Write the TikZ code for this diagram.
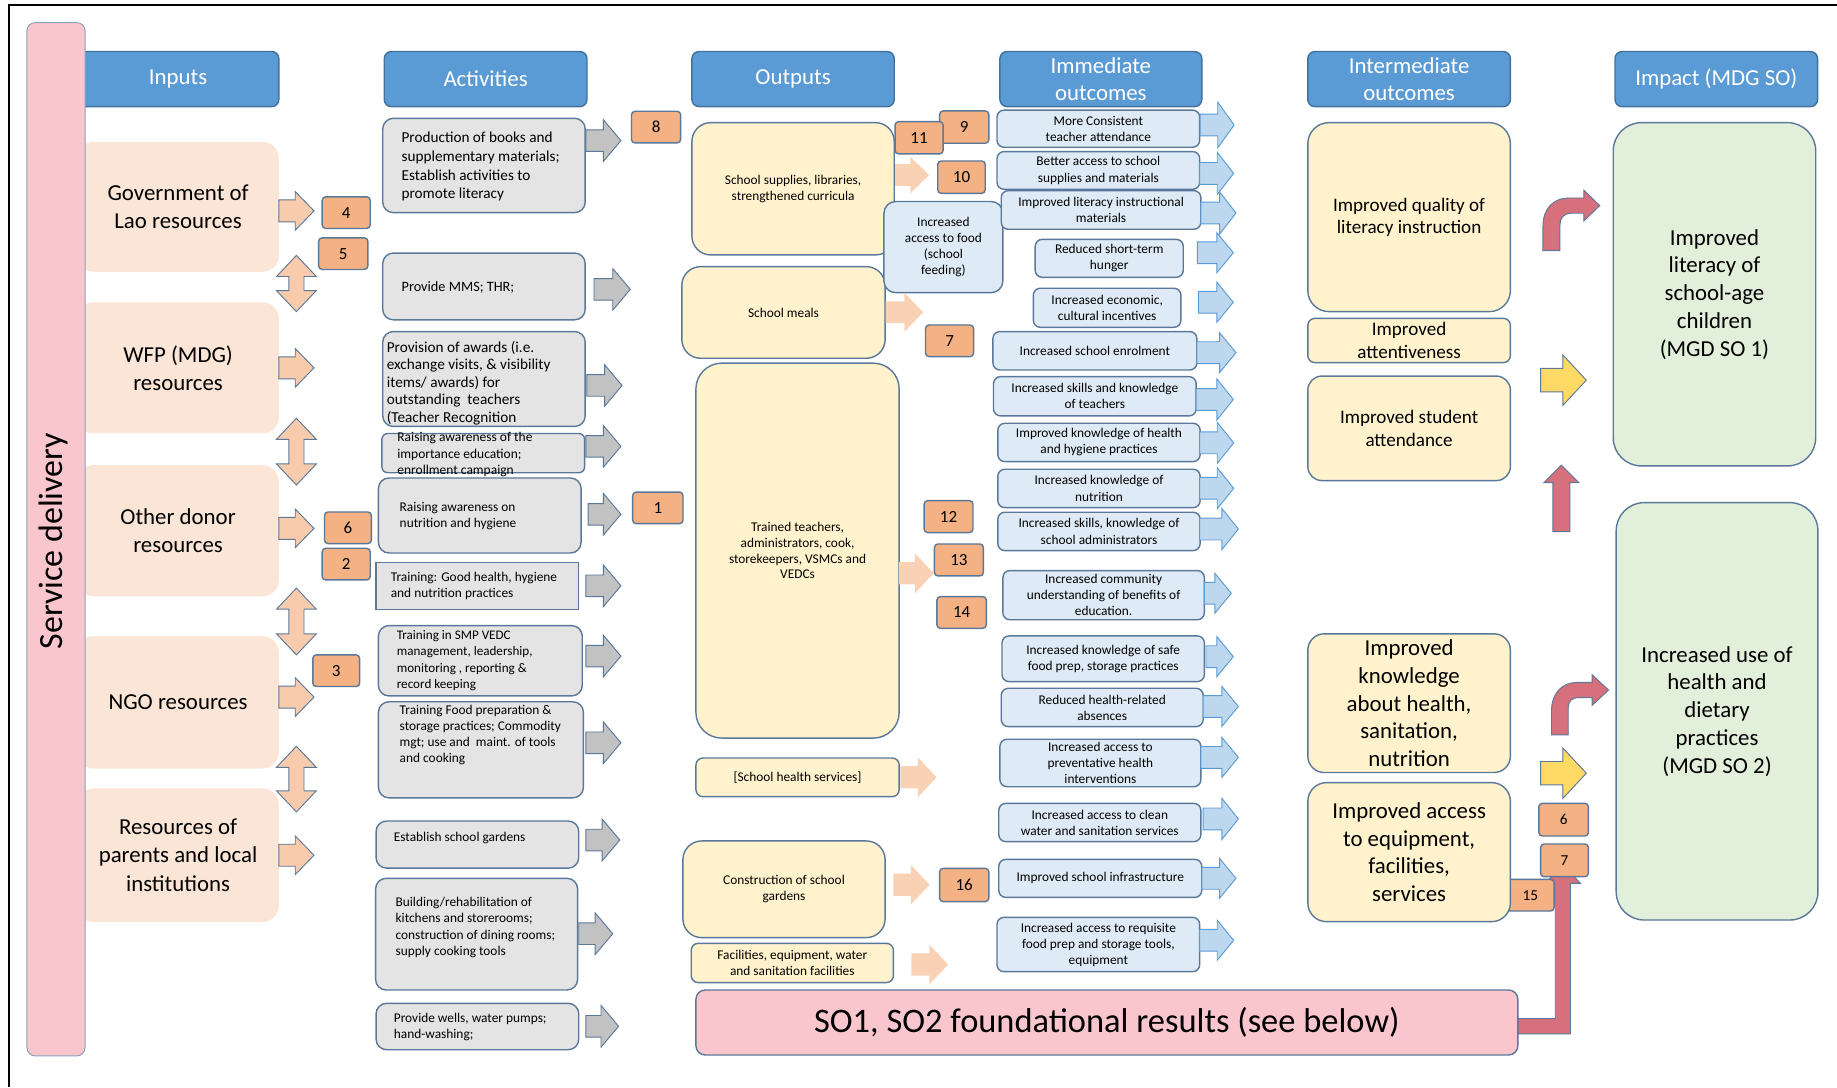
\documentclass[tikz,border=0pt]{standalone}
\usepackage{fontspec}
\setmainfont{Carlito}

\definecolor{hdr}{HTML}{5B9BD5}
\definecolor{hdrline}{HTML}{41719C}
\definecolor{pinkbar}{HTML}{F9C6CD}
\definecolor{peach}{HTML}{FBE5D6}
\definecolor{peacharr}{HTML}{F8CBAD}
\definecolor{softpeach}{HTML}{F9D2B6}
\definecolor{numfill}{HTML}{F4B183}
\definecolor{actfill}{HTML}{E4E4E4}
\definecolor{grayarr}{HTML}{C2C2C2}
\definecolor{outfill}{HTML}{FFF2CC}
\definecolor{imfill}{HTML}{DEEBF7}
\definecolor{bluearr}{HTML}{BDD7EE}
\definecolor{bluearrline}{HTML}{5B9BD5}
\definecolor{grnfill}{HTML}{E2EFDA}
\definecolor{redarr}{HTML}{D5707C}
\definecolor{yelarr}{HTML}{FFD966}
\definecolor{edge}{HTML}{5A7899}

\newcommand\fsz[2]{\fontsize{#1}{#2}\selectfont}
% box node from its corner coordinates: name, style, x1, y1, x2, y2, text
\newcommand\bx[7]{\node[#2, minimum width={#5-#3}, minimum height={#6-#4}] (#1) at ({(#3+#5)/2},{(#4+#6)/2}) {#7};}
% numbered tag: [style] name, x1, y1, x2, y2, number
\newcommand\num[7][]{\node[numbox,#1, minimum width={#5-#3}, minimum height={#6-#4}] (#2) at ({(#3+#5)/2},{(#4+#6)/2}) {#7};}
% right-pointing block arrow: style, tail x, tip x, centre y, shaft half, head half, head length
\newcommand\rarr[7]{\path[#1] (#2,{#4-#5}) -- ({#3-#7},{#4-#5}) -- ({#3-#7},{#4-#6}) -- (#3,#4) -- ({#3-#7},{#4+#6}) -- ({#3-#7},{#4+#5}) -- (#2,{#4+#5}) -- cycle;}
% vertical double-headed block arrow: x, top y, bottom y
\newcommand\vdarr[3]{\path[inarrow] (#1,#2) -- ({#1+17},{#2+18}) -- ({#1+6.5},{#2+18}) -- ({#1+6.5},{#3-18}) -- ({#1+17},{#3-18}) -- (#1,#3) -- ({#1-17},{#3-18}) -- ({#1-6.5},{#3-18}) -- ({#1-6.5},{#2+18}) -- ({#1-17},{#2+18}) -- cycle;}

\begin{document}
\begin{tikzpicture}[x=1pt,y=-1pt,
  box/.style={rectangle, inner sep=0pt, outer sep=0pt, line width=1.2pt, draw=edge, align=center},
  header/.style={box, fill=hdr, draw=hdrline, rounded corners=6pt, text=white, font=\fsz{19.5}{23}},
  inbox/.style={box, draw=none, fill=peach, rounded corners=14pt, font=\fsz{19.5}{24}},
  act/.style={box, fill=actfill, rounded corners=9pt},
  acttext/.style={inner sep=0pt, align=left, anchor=west, font=\fsz{11.4}{13.7}},
  outb/.style={box, fill=outfill, rounded corners=16pt, font=\fsz{11.4}{13.5}},
  imb/.style={box, fill=imfill, rounded corners=6pt, font=\fsz{11.4}{13.7}},
  midb/.style={box, fill=outfill, rounded corners=18pt},
  impb/.style={box, fill=grnfill, rounded corners=24pt, font=\fsz{19.5}{23.7}},
  numbox/.style={box, fill=numfill, rounded corners=3pt, font=\fsz{14.5}{16}},
  inarrow/.style={fill=peacharr, draw=edge, line width=0.8pt},
  grayarrow/.style={fill=grayarr, draw=edge, line width=0.8pt},
  outarrow/.style={fill=softpeach},
  bluearrow/.style={fill=bluearr, draw=bluearrline, line width=0.8pt},
  redarrow/.style={fill=redarr, draw=edge, line width=0.8pt},
  yelarrow/.style={fill=yelarr, draw=edge, line width=0.8pt}]
\useasboundingbox (0,0) rectangle (1568,928);

% outer frame
\draw[line width=1.8pt] (7.4,928) -- (7.4,4.3) -- (1568,4.3);

% column headers
\bx{hin}{header}{66}{44}{238}{91}{Inputs}
\bx{hact}{header}{328}{44}{501}{91}{Activities}
\bx{hout}{header}{590.6}{44}{763.3}{91}{Outputs}
\bx{himm}{header}{853.5}{44}{1025.8}{91}{Immediate\\outcomes}
\bx{hint}{header}{1116.3}{44}{1289.2}{91}{Intermediate\\outcomes}
\bx{himp}{header}{1378.5}{44}{1551.4}{91}{Impact (MDG SO)}

% inputs
\bx{in1}{inbox}{66}{121}{238}{232}{Government of\\Lao resources}
\bx{in2}{inbox}{66}{258}{238}{370}{WFP (MDG)\\resources}
\bx{in3}{inbox}{66}{397}{238}{509}{Other donor\\resources}
\bx{in4}{inbox}{66}{543}{238}{656}{NGO resources}
\bx{in5}{inbox}{66}{673}{238}{787}{Resources of\\parents and local\\institutions}

% service delivery bar
\node[box, fill=pinkbar, draw=edge!70, line width=0.8pt, rounded corners=7pt, minimum width=49.6, minimum height=882] (sd) at (47.8,460.3) {};
\node[rotate=90, inner sep=0pt, font=\fsz{29}{34}] (sdt) at (46,462) {Service delivery};

\rarr{inarrow}{238}{268}{180}{9.4}{16.5}{16}
\rarr{inarrow}{238}{268}{314}{9.4}{16.5}{16}
\rarr{inarrow}{238}{268}{451}{9.4}{16.5}{16}
\rarr{inarrow}{238}{268}{595}{9.4}{16.5}{16}
\rarr{inarrow}{238}{268}{730}{9.4}{16.5}{16}
\vdarr{253}{218}{266}
\vdarr{253}{357}{414}
\vdarr{253}{502}{559}
\vdarr{253}{637}{693}

\num{n4}{275}{168}{316}{195}{4}
\num{n5}{272}{203}{314}{230}{5}
\num{n6a}{277}{437}{317}{464}{6}
\num{n2}{275}{468}{316}{495}{2}
\num{n3}{267}{559}{307}{586}{3}

% activities
\bx{a1}{act}{326.7}{101}{499.5}{181.5}{}
\bx{a2}{act}{326.7}{216}{499.5}{273}{}
\bx{a3}{act}{326.7}{283}{499.5}{364}{}
\bx{a4}{act, rounded corners=5pt}{326}{370}{499}{403.5}{}
\bx{a5}{act}{323}{408}{496}{472}{}
\bx{a6}{act, sharp corners}{321}{480}{494}{520}{}
\bx{a7}{act}{323}{534}{497}{594}{}
\bx{a8}{act}{323}{599}{498}{681}{}
\bx{a9}{act}{321}{700.8}{494}{741}{}
\bx{a10}{act}{320.6}{749.7}{493}{845}{}
\bx{a11}{act}{321}{856.4}{494}{896}{}

\node[acttext, font=\fsz{13}{16}] (a1t) at (342.6,142.2) {Production of books and\\supplementary materials;\\Establish activities to\\promote literacy};
\node[acttext, font=\fsz{12.2}{14}] (a2t) at (342.6,245) {Provide MMS; THR;};
\node[acttext, font=\fsz{13}{15}] (a3t) at (330,327) {Provision of awards (i.e.\\exchange visits, \& visibility\\items/ awards) for\\outstanding~ teachers\\(Teacher Recognition};
\node[acttext, font=\fsz{11.5}{14}] (a4t) at (339,388) {Raising awareness of the\\importance education;\\enrollment campaign};
\node[acttext] (a5t) at (341,440.5) {Raising awareness on\\nutrition and hygiene};
\node[acttext] (a6t) at (333.4,500.3) {Training: Good health, hygiene\\and nutrition practices};
\node[acttext, font=\fsz{11.2}{14}] (a7t) at (338.5,564) {Training in SMP VEDC\\management, leadership,\\monitoring , reporting \&\\record keeping};
\node[acttext] (a8t) at (341,627.7) {Training Food preparation \&\\storage practices; Commodity\\mgt; use and~ maint. of tools\\and cooking};
\node[acttext] (a9t) at (336,715.6) {Establish school gardens};
\node[acttext, font=\fsz{11.4}{13.8}] (a10t) at (337.5,791.7) {Building/rehabilitation of\\kitchens and storerooms;\\construction of dining rooms;\\supply cooking tools};
\node[acttext] (a11t) at (336,877) {Provide wells, water pumps;\\hand-washing;};

\rarr{grayarrow}{500}{530}{120}{9.2}{17.8}{15}
\rarr{grayarrow}{507}{538}{247}{9.2}{17.8}{15}
\rarr{grayarrow}{501}{531}{329}{9.2}{17.8}{15}
\rarr{grayarrow}{500}{530}{381}{9.2}{17.8}{15}
\rarr{grayarrow}{502}{530}{439}{9.2}{17.8}{15}
\rarr{grayarrow}{500}{530}{500}{9.2}{17.8}{15}
\rarr{grayarrow}{500}{530}{560}{9.2}{17.8}{15}
\rarr{grayarrow}{500}{530}{634}{9.2}{17.8}{15}
\rarr{grayarrow}{500}{529}{717}{9.2}{17.8}{15}
\rarr{grayarrow}{494}{523}{797}{9.2}{17.8}{15}
\rarr{grayarrow}{500}{528}{876}{9.2}{17.8}{15}

\num{n8}{539}{95}{581}{122}{8}
\num{n1}{540}{420}{583}{447}{1}

% outputs
\bx{o1}{outb}{590.6}{104.7}{763.3}{217.6}{School supplies, libraries,\\strengthened curricula}
\bx{o2}{outb}{582}{227.6}{755.5}{305.8}{School meals}
\bx{o3}{outb, rounded corners=22pt}{594}{310}{767.5}{630}{Trained teachers,\\administrators, cook,\\storekeepers, VSMCs and\\VEDCs}
\bx{o4}{outb, rounded corners=6pt}{594}{647}{767.5}{680}{[School health services]}
\bx{o5}{outb}{582.9}{717.8}{755.5}{800.3}{Construction of school\\gardens}
\bx{o6}{outb, rounded corners=6pt}{590}{805.2}{762.6}{838.7}{Facilities, equipment, water\\and sanitation facilities}
\bx{food}{imb, rounded corners=10pt}{754.5}{172}{856}{249.8}{Increased\\access to food\\(school\\feeding)}

\rarr{outarrow}{764}{793}{149.4}{9.3}{15.6}{16}
\rarr{outarrow}{756}{788}{266.6}{9.3}{16.5}{16}
\rarr{outarrow}{767.5}{797}{489.3}{9.5}{17}{16}
\rarr{outarrow}{768.6}{799.4}{663.5}{9.5}{17}{16}
\rarr{outarrow}{762.6}{793.4}{755.2}{9.5}{17}{16}
\rarr{outarrow}{778}{809.3}{823.3}{9.5}{17}{16}

\num{n9}{802}{94.7}{844}{122.3}{9}
\num{n11}{764}{103.8}{805}{131.4}{11}
\num{n10}{800.4}{137.4}{841}{165}{10}
\num{n7a}{790}{277.4}{831}{304.4}{7}
\num{n12}{788.8}{427.3}{830.5}{454.6}{12}
\num{n13}{797.6}{464.3}{839.4}{491.6}{13}
\num{n14}{799.7}{509.2}{841.9}{536.3}{14}
\num{n16}{802}{741.2}{844}{769.6}{16}

% immediate outcomes
\bx{i1}{imb}{851}{94}{1024}{125.7}{More Consistent\\teacher attendance}
\bx{i2}{imb}{851}{129.4}{1024}{161.6}{Better access to school\\supplies and materials}
\bx{i3}{imb}{854.6}{162.7}{1025}{195.7}{Improved literacy instructional\\materials}
\bx{i4}{imb}{883.6}{204.3}{1010}{236.7}{Reduced short-term\\hunger}
\bx{i5}{imb}{882}{246}{1008}{279.4}{Increased economic,\\cultural incentives}
\bx{i6}{imb}{847.5}{283}{1021.6}{315.8}{Increased school enrolment}
\bx{i7}{imb}{848}{321.5}{1021}{355}{Increased skills and knowledge\\of teachers}
\bx{i8}{imb}{851.7}{361.3}{1024.4}{394}{Improved knowledge of health\\and hygiene practices}
\bx{i9}{imb}{851.7}{400.5}{1024.4}{433.3}{Increased knowledge of\\nutrition}
\bx{i10}{imb}{851.7}{437.2}{1024.4}{470}{Increased skills, knowledge of\\school administrators}
\bx{i11}{imb}{856}{487}{1028}{529}{Increased community\\understanding of benefits of\\education.}
\bx{i12}{imb}{855.3}{542.8}{1028}{581.8}{Increased knowledge of safe\\food prep, storage practices}
\bx{i13}{imb}{854.6}{587.5}{1027}{620.2}{Reduced health-related\\absences}
\bx{i14}{imb}{853.5}{631}{1025}{671.5}{Increased access to\\preventative health\\interventions}
\bx{i15}{imb}{852.5}{685.7}{1025}{718.4}{Increased access to clean\\water and sanitation services}
\bx{i16}{imb}{852.5}{733.5}{1025.8}{766}{Improved school infrastructure}
\bx{i17}{imb}{851}{783}{1024}{829.4}{Increased access to requisite\\food prep and storage tools,\\equipment}

\rarr{bluearrow}{1024.4}{1053.4}{106.7}{9.3}{19.5}{14}
\rarr{bluearrow}{1024}{1053}{148}{9.3}{18}{14}
\rarr{bluearrow}{1025}{1055}{181.8}{9.3}{18}{14}
\rarr{bluearrow}{1022}{1052.7}{215.7}{9.3}{17}{14}
\rarr{bluearrow}{1023}{1052.7}{258}{9.3}{17}{14}
\rarr{bluearrow}{1021.6}{1055}{301}{9.3}{17}{14}
\rarr{bluearrow}{1021}{1052.7}{341}{9.3}{17.5}{14}
\rarr{bluearrow}{1024}{1053}{378}{9.3}{17.5}{14}
\rarr{bluearrow}{1024}{1053}{416.8}{9.3}{17.5}{14}
\rarr{bluearrow}{1024}{1057}{451.6}{9.3}{17.5}{14}
\rarr{bluearrow}{1028}{1051}{506.4}{9.3}{17}{14}
\rarr{bluearrow}{1029.4}{1052.7}{560.5}{9.3}{17}{14}
\rarr{bluearrow}{1027}{1057}{603}{9.3}{17}{14}
\rarr{bluearrow}{1025}{1057}{646.5}{9.3}{17}{14}
\rarr{bluearrow}{1027}{1057}{699}{9.3}{17.5}{14}
\rarr{bluearrow}{1025.8}{1055}{749.7}{9.3}{17}{14}
\rarr{bluearrow}{1024}{1053}{802.6}{9.3}{17}{14}

% foundational results, with the elbow arrow rising from it
\path[redarrow] (1290,869.5) -- (1327.5,869.5) -- (1327.5,754) -- (1319,754) -- (1334,738) -- (1349,754) -- (1340.5,754) -- (1340.5,882.5) -- (1290,882.5) -- cycle;
\bx{so}{box, fill=pinkbar, rounded corners=8pt, font=\fsz{29.4}{34}}{594}{845}{1295.6}{900.5}{SO1, SO2 foundational results (see below)}

% intermediate outcomes
\num[font=\fsz{13}{15}]{n15}{1286}{750.6}{1326.5}{777.6}{15}
\bx{m1}{midb, font=\fsz{16.3}{18.5}}{1116.3}{104.7}{1289.2}{266}{Improved quality of\\literacy instruction}
\bx{m2}{midb, rounded corners=6pt, font=\fsz{16.3}{19.3}}{1116.3}{271.7}{1289.2}{309.5}{Improved\\attentiveness}
\bx{m3}{midb, rounded corners=12pt, font=\fsz{16.3}{20}}{1116.3}{321}{1289.2}{410.2}{Improved student\\attendance}
\bx{m4}{midb, rounded corners=14pt, font=\fsz{19.5}{23.6}}{1116.3}{541}{1289.2}{659.4}{Improved\\knowledge\\about health,\\sanitation,\\nutrition}
\bx{m5}{midb, rounded corners=16pt, font=\fsz{19.5}{23.7}}{1116.3}{668}{1289.2}{786.7}{Improved access\\to equipment,\\facilities,\\services}

% impact
\bx{p1}{impb}{1377}{104.7}{1549.8}{397.7}{Improved\\literacy of\\school-age\\children\\(MGD SO 1)}
\bx{p2}{impb}{1379.5}{429}{1551.7}{785.3}{Increased use of\\health and\\dietary\\practices\\(MGD SO 2)}

% arrows into the impact column
\path[redarrow] (1317,214) -- (1317,193) .. controls (1317,178) and (1326,169) .. (1339,169) -- (1352,169) -- (1352,162.5) -- (1365.5,175.5) -- (1352,188.5) -- (1352,182) -- (1341,182) .. controls (1335,182) and (1331.5,186) .. (1331.5,192) -- (1331.5,214) -- cycle;
\rarr{yelarrow}{1315}{1354}{324.5}{10}{21.5}{20}
\path[redarrow] (1332.7,397) -- (1347.7,412) -- (1339.9,412) -- (1339.9,453.7) -- (1325.5,453.7) -- (1325.5,412) -- (1317.7,412) -- cycle;
\path[redarrow] (1324.3,627.3) -- (1324.3,607) .. controls (1324.3,592) and (1333,582.5) .. (1346,582.5) -- (1359,582.5) -- (1359,576) -- (1373,589) -- (1359,602) -- (1359,595.5) -- (1347,595.5) .. controls (1342,595.5) and (1338.6,598.5) .. (1338.6,604) -- (1338.6,627.3) -- cycle;
\rarr{yelarrow}{1315}{1354}{660}{10}{21.5}{20}

\num[font=\fsz{13}{15}]{n6b}{1313.5}{685.7}{1355.8}{713.6}{6}
\num[font=\fsz{13}{15}]{n7b}{1315}{720.4}{1355.8}{748.3}{7}
\end{tikzpicture}
\end{document}
